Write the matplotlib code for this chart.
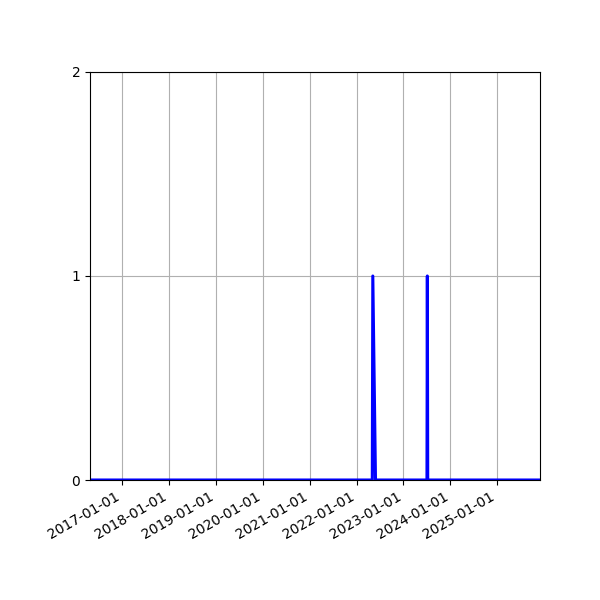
import matplotlib
matplotlib.use("Agg")
import matplotlib.pyplot as plt
import matplotlib.dates as mdates
import datetime as dt

dates = ["2016-04-24", "2022-05-03", "2022-05-07", "2022-05-28",
         "2023-07-03", "2023-07-06", "2023-07-09", "2025-11-30"]
values = [0, 0, 1, 0, 0, 1, 0, 0]
yticks = [0, 1, 2]

x = [dt.datetime.strptime(d, "%Y-%m-%d") for d in dates]

fig = plt.figure(figsize=(6, 6), dpi=100)
ax = fig.add_axes([0.15, 0.2, 0.75, 0.68])
ax.plot(x, values, color="blue", linewidth=2.2)
ax.set_xlim(x[0], x[-1])
ax.set_ylim(0, 2)
ax.set_yticks(yticks)
ax.xaxis.set_major_locator(mdates.YearLocator())
ax.xaxis.set_major_formatter(mdates.DateFormatter("%Y-%m-%d"))
ax.grid(True)
for lab in ax.get_xticklabels():
    lab.set_rotation(30)
    lab.set_ha("right")
fig.savefig("out.png", dpi=100)
